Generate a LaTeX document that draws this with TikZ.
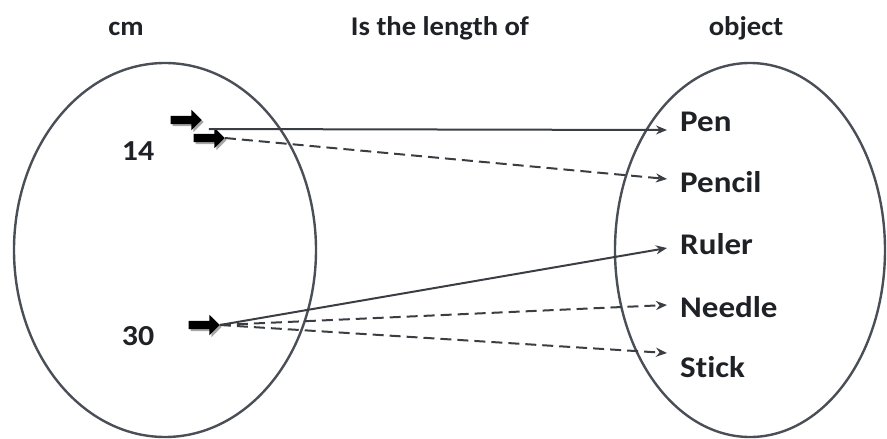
\documentclass[tikz,border=0pt]{standalone}
\usepackage{fontspec}
\setmainfont{Carlito}
\newfontfamily\titlefont[FakeStretch=1.06,Ligatures=NoCommon]{Carlito}
\newfontfamily\labelfont[FakeStretch=1.1,Ligatures=NoCommon]{Carlito}
\usetikzlibrary{arrows.meta,shapes.geometric,shapes.arrows,shadows}
\definecolor{edge}{HTML}{4A4F57}
\definecolor{conncol}{HTML}{3A3D42}
\definecolor{txt}{HTML}{1E2125}
\begin{document}
\begin{tikzpicture}[x=1pt,y=-1pt,
  setshape/.style={ellipse,draw=edge,line width=2.4pt,inner sep=0pt},
  title/.style={font=\titlefont\bfseries\fontsize{27}{30}\selectfont,text=txt,inner sep=0pt,anchor=base},
  lbl/.style={font=\labelfont\bfseries\fontsize{30}{32}\selectfont,text=txt,inner sep=0pt,anchor=base west},
  num/.style={font=\labelfont\bfseries\fontsize{29}{32}\selectfont,text=txt,inner sep=0pt,anchor=base},
  blockarrow/.style={single arrow,fill=black,draw=none,minimum height=31pt,minimum width=20pt,
    single arrow head extend=6pt,inner xsep=0pt,inner ysep=4pt,
    drop shadow={fill=gray!70,shadow xshift=2pt,shadow yshift=-2pt,opacity=1}},
  conn/.style={draw=conncol,line width=2pt,-{Stealth[length=11pt,width=9pt]}},
  dconn/.style={conn,dash pattern=on 11pt off 6pt}]
\useasboundingbox (0,0) rectangle (887,439);
% sets
\node[setshape,minimum width=302pt,minimum height=374pt] (L) at (165,250) {};
\node[setshape,minimum width=270pt,minimum height=374pt] (R) at (750,250) {};
% titles
\node[title] (tcm) at (126,35) {cm};
\node[title] (trel) at (440,35) {Is the length of};
\node[title] (tobj) at (746,35) {object};
% numbers
\node[num] (n14) at (138,160) {14};
\node[num] (n30) at (138,345) {30};
% labels
\node[lbl] (pen) at (680,131) {Pen};
\node[lbl] (pencil) at (680,192) {Pencil};
\node[lbl] (ruler) at (680,254) {Ruler};
\node[lbl] (needle) at (680,317) {Needle};
\node[lbl] (stick) at (680,377) {Stick};
% block arrows
\node[blockarrow] (a1) at (184,120) {};
\node[blockarrow] (a2) at (207,138) {};
\node[blockarrow] (a3) at (202,325) {};
% connectors
\draw[conn] ([xshift=-16pt,yshift=9pt]a2.tip) -- ([xshift=-13pt,yshift=1pt]pen.base west);
\draw[dconn] (a2.tip) -- ([xshift=-13pt,yshift=13pt]pencil.base west);
\draw[conn] (a3.tip) -- ([xshift=-13pt,yshift=6pt]ruler.base west);
\draw[dconn] (a3.tip) -- ([xshift=-13pt,yshift=12pt]needle.base west);
\draw[dconn] (a3.tip) -- ([xshift=-13pt,yshift=24pt]stick.base west);
\end{tikzpicture}
\end{document}
